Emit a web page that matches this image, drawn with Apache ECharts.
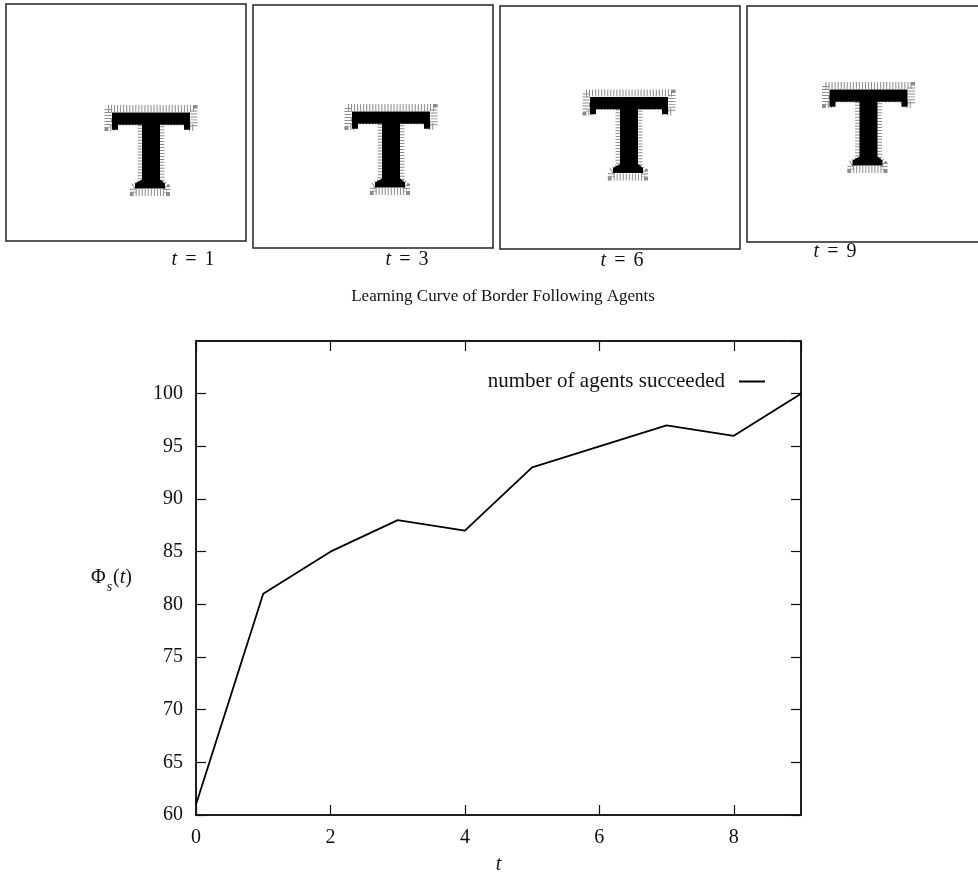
<!DOCTYPE html>
<html>
<head>
<meta charset="utf-8">
<script src="https://cdn.jsdelivr.net/npm/echarts@6/dist/echarts.min.js"></script>
<style>
  html, body { margin: 0; padding: 0; background: #fff; }
  #chart { width: 978px; height: 874px; }
</style>
</head>
<body>
<div id="chart"></div>
<script>
// ---- learning curve data ----
const steps = [0, 1, 2, 3, 4, 5, 6, 7, 8, 9];
const succeeded = [61, 81, 85, 88, 87, 93, 95, 97, 96, 100];
const seriesName = 'number of agents succeeded';
const chartTitle = 'Learning Curve of Border Following Agents';

// ---- snapshot data: time step and centre of the "T" shape inside each frame ----
const snapshotTimes = [1, 3, 6, 9];
const shapeCenterX = [145, 138, 129, 121.5];
const shapeCenterY = [146.5, 144.5, 129, 121.5];

// frame boxes (left, top, width, height) and caption anchors
const frames = [
  [6, 4, 240, 237],
  [253, 5, 240, 243],
  [500, 6, 240, 243],
  [747, 6, 240, 236]
];
const captionX = [188, 402, 617, 830];
const captionY = [245, 245, 246, 237];

const FONT = '"Liberation Serif", "DejaVu Serif", serif';

// serif capital T outline, scaled to symbolSize
const tPath = 'path://M0,0 L78,0 L78,17 L72,17 L72,12 L48,12 L48,66 L53,70 L53,75 L23,75 L23,70 L30,66 L30,12 L6,12 L6,17 L0,17 Z';

const grids = [], xAxes = [], yAxes = [], series = [], titles = [];

frames.forEach((f, i) => {
  grids.push({
    left: f[0], top: f[1], width: f[2], height: f[3], outerBoundsMode: 'none',
    show: true, borderColor: '#222', borderWidth: 1.5, backgroundColor: '#fff'
  });
  xAxes.push({ gridIndex: i, type: 'value', min: 0, max: f[2], show: false });
  yAxes.push({ gridIndex: i, type: 'value', min: 0, max: f[3], inverse: true, show: false });
  const pt = [[shapeCenterX[i], shapeCenterY[i]]];
  // speckled halo around the shape
  series.push({
    type: 'scatter', xAxisIndex: i, yAxisIndex: i, silent: true,
    symbol: tPath, symbolSize: [86, 84],
    itemStyle: {
      color: 'rgba(0,0,0,0)', opacity: 1,
      borderColor: '#8c8c8c', borderWidth: 7, borderType: [1, 2]
    },
    data: pt, z: 2
  });
  series.push({
    type: 'scatter', xAxisIndex: i, yAxisIndex: i, silent: true,
    symbol: tPath, symbolSize: [78, 76],
    itemStyle: { color: '#000', opacity: 1 },
    data: pt, z: 3
  });
  titles.push({
    text: '{i|t}{e|=}' + snapshotTimes[i],
    left: captionX[i], top: captionY[i], textAlign: 'center',
    textStyle: {
      fontFamily: FONT, fontSize: 20, fontWeight: 'normal', color: '#111',
      rich: {
        i: { fontFamily: FONT, fontSize: 20, fontStyle: 'italic', color: '#111' },
        e: { fontFamily: FONT, fontSize: 20, color: '#111', padding: [0, 8, 0, 8] }
      }
    }
  });
});

titles.push({
  text: chartTitle, left: 498, top: 283, textAlign: 'center',
  textStyle: { fontFamily: FONT, fontSize: 17, fontWeight: 'normal', color: '#111' }
});

// ---- main plot ----
const gi = frames.length;
grids.push({
  left: 196, right: 177, top: 341, bottom: 59, outerBoundsMode: 'none',
  show: true, borderColor: '#111', borderWidth: 1.5
});

const tickStyle = { inside: true, length: 10, lineStyle: { color: '#111', width: 1.2 } };
const axisLine = { onZero: false, lineStyle: { color: '#111', width: 1.5 } };
const labelStyle = { fontFamily: FONT, fontSize: 20, color: '#111', margin: 13, showMaxLabel: false };

xAxes.push({
  gridIndex: gi, type: 'value', min: 0, max: 9, interval: 2, position: 'bottom',
  axisLine: axisLine, axisTick: tickStyle, splitLine: { show: false },
  axisLabel: labelStyle,
  name: 't', nameLocation: 'middle', nameGap: 40,
  nameTextStyle: { fontFamily: FONT, fontSize: 20, fontStyle: 'italic', color: '#111' }
});
xAxes.push({
  gridIndex: gi, type: 'value', min: 0, max: 9, interval: 2, position: 'top',
  axisLine: axisLine, axisTick: tickStyle, splitLine: { show: false },
  axisLabel: { show: false }
});
yAxes.push({
  gridIndex: gi, type: 'value', min: 60, max: 105, interval: 5, position: 'left',
  axisLine: axisLine, axisTick: tickStyle, splitLine: { show: false },
  axisLabel: labelStyle,
  name: '{p|Φ}{s|s}{p|(}{i|t}{p|)}', nameLocation: 'middle', nameRotate: 0, nameGap: 64,
  nameTextStyle: {
    color: '#111',
    rich: {
      p: { fontFamily: FONT, fontSize: 20, color: '#111', lineHeight: 32, verticalAlign: 'middle' },
      i: { fontFamily: FONT, fontSize: 20, fontStyle: 'italic', color: '#111', lineHeight: 32, verticalAlign: 'middle' },
      s: { fontFamily: FONT, fontSize: 14, fontStyle: 'italic', color: '#111', lineHeight: 32, verticalAlign: 'bottom', padding: [0, 1, 0, 1] }
    }
  }
});
yAxes.push({
  gridIndex: gi, type: 'value', min: 60, max: 105, interval: 5, position: 'right',
  axisLine: axisLine, axisTick: tickStyle, splitLine: { show: false },
  axisLabel: { show: false }
});

series.push({
  name: seriesName, type: 'line', xAxisIndex: xAxes.length - 2, yAxisIndex: yAxes.length - 2,
  symbol: 'none', silent: true,
  lineStyle: { color: '#000', width: 1.8 },
  itemStyle: { color: '#000' },
  data: steps.map((t, k) => [t, succeeded[k]])
});

const chart = echarts.init(document.getElementById('chart'), null, { renderer: 'canvas' });
chart.setOption({
  animation: false,
  backgroundColor: '#fff',
  title: titles,
  legend: {
    data: [{ name: seriesName, icon: 'rect' }], right: 208, top: 366, align: 'right',
    itemWidth: 26, itemHeight: 2, selectedMode: false,
    itemStyle: { color: '#000' },
    textStyle: { fontFamily: FONT, fontSize: 21, color: '#111', padding: [0, 9, 0, 0] }
  },
  grid: grids,
  xAxis: xAxes,
  yAxis: yAxes,
  series: series
});
</script>
</body>
</html>
